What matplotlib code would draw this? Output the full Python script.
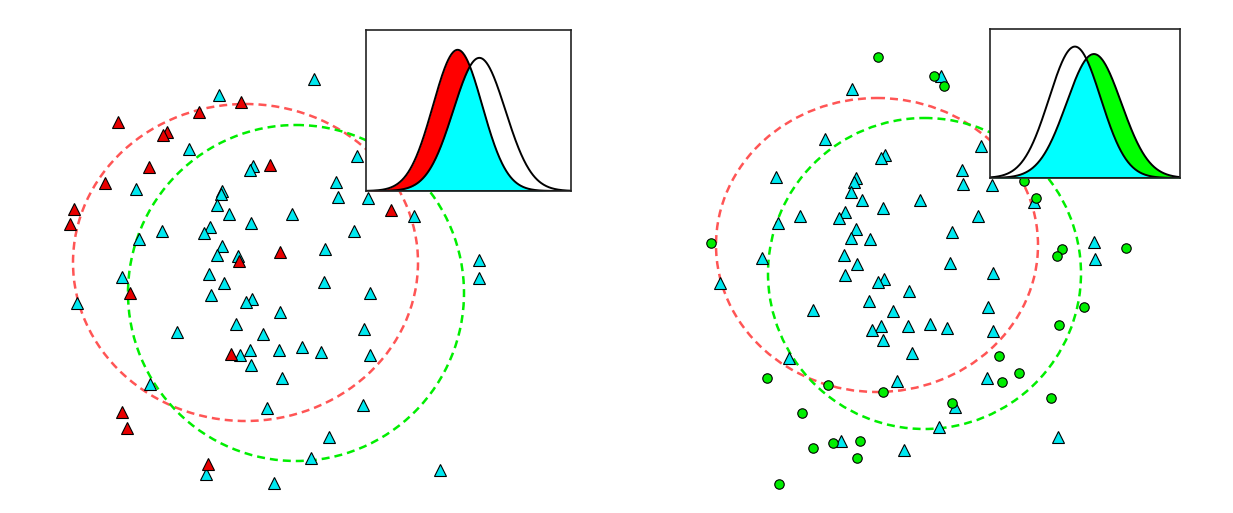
import numpy as np
import matplotlib
matplotlib.use("Agg")
import matplotlib.pyplot as plt
from matplotlib.patches import Ellipse

# left panel: cyan triangles and red triangles (x, y in panel units)
left_cyan_x = [314, 219, 357, 189, 253, 250, 336, 136, 222, 221, 338, 368, 217, 229, 292,
               251, 414, 210, 204, 162, 139, 354, 222, 217, 238, 325, 479, 479, 209, 122,
               224, 324, 211, 370, 77, 252, 246, 280, 236, 177, 263, 364, 250, 240, 279,
               302, 321, 370, 251, 282, 150, 267, 363, 329, 311, 440, 206, 274]
left_cyan_y = [79, 95, 156, 149, 166, 170, 182, 189, 191, 194, 197, 198, 205, 214, 214,
               223, 216, 227, 233, 231, 239, 231, 246, 255, 256, 249, 260, 278, 274, 277,
               283, 282, 295, 293, 303, 299, 302, 312, 324, 332, 334, 329, 350, 355, 350,
               347, 352, 355, 365, 378, 384, 408, 405, 437, 458, 470, 474, 483]
left_red_x = [241, 199, 118, 167, 163, 270, 149, 105, 74, 70, 391, 280, 239, 130, 231, 122, 127, 208]
left_red_y = [102, 112, 122, 132, 135, 165, 167, 183, 209, 224, 210, 252, 261, 293, 354, 412, 428, 464]

# right panel: cyan triangles and green circles
right_cyan_x = [941, 852, 825, 981, 885, 881, 962, 776, 856, 854, 963, 992, 851, 862, 920,
                883, 1034, 800, 845, 839, 978, 778, 856, 851, 870, 952, 1094, 1095, 844, 762,
                857, 950, 993, 720, 845, 884, 878, 909, 869, 988, 813, 893, 881, 872, 908,
                930, 947, 993, 883, 912, 789, 897, 987, 955, 939, 841, 1058, 904]
right_cyan_y = [76, 89, 139, 146, 155, 158, 170, 177, 178, 182, 184, 185, 192, 200, 200,
                208, 202, 216, 212, 218, 216, 223, 229, 238, 239, 232, 242, 259, 255, 258,
                264, 263, 273, 283, 275, 279, 282, 291, 301, 307, 310, 311, 326, 330, 326,
                324, 328, 331, 340, 353, 358, 381, 378, 407, 427, 441, 437, 450]
right_green_x = [878, 934, 944, 1024, 1036, 711, 1062, 1057, 1126, 1084, 1059, 999, 1019,
                 1002, 767, 828, 883, 1051, 952, 802, 833, 860, 813, 857, 779]
right_green_y = [57, 76, 86, 181, 198, 243, 249, 256, 248, 307, 325, 356, 373,
                 382, 378, 385, 392, 398, 403, 413, 443, 441, 448, 458, 484]

# dashed contours: centre x, centre y, width, height
left_red_ell = [245.5, 262.5, 345, 317]
left_green_ell = [296, 293, 336, 336]
right_red_ell = [877, 245, 322, 294]
right_green_ell = [924.5, 273.5, 313, 311]

# inset gaussians: mean, sigma, peak height
left_red_g = [0.447, 0.120, 0.877]
left_white_g = [0.553, 0.127, 0.827]
right_white_g = [0.447, 0.136, 0.882]
right_green_g = [0.547, 0.144, 0.832]

cyan = '#00e8f0'
W, H = 1233, 513


def gauss(x, p):
    return p[2] * np.exp(-0.5 * ((x - p[0]) / p[1]) ** 2)


def contour(ax, e, color):
    ax.add_patch(Ellipse((e[0], e[1]), e[2], e[3], fill=False, edgecolor=color,
                         lw=1.8, linestyle=(0, (3.2, 2.0)), zorder=3))


def inset(rect, shifted, other, fillcol):
    ax = fig.add_axes(rect)
    x = np.linspace(0, 1, 400)
    a = gauss(x, shifted)
    b = gauss(x, other)
    ax.fill_between(x, 0, a, color=fillcol, lw=0)
    ax.fill_between(x, 0, np.minimum(a, b), color='#00ffff', lw=0)
    ax.plot(x, a, color='black', lw=1.4)
    ax.plot(x, b, color='black', lw=1.4)
    ax.plot([0, 1], [0, 0], color='black', lw=2)
    ax.set_xlim(0, 1)
    ax.set_ylim(0, 1)
    ax.set_xticks([])
    ax.set_yticks([])
    for s in ax.spines.values():
        s.set_linewidth(1.2)
        s.set_color('#222222')
    return ax


fig = plt.figure(figsize=(W / 100, H / 100), dpi=100)

ax1 = fig.add_axes([0, 0, 0.5, 1])
ax1.set_xlim(0, W / 2)
ax1.set_ylim(H, 0)
ax1.axis('off')
contour(ax1, left_red_ell, '#ff5555')
contour(ax1, left_green_ell, '#00ee00')
ax1.plot(left_cyan_x, left_cyan_y, '^', ms=8.5, mfc=cyan, mec='black', mew=0.8, zorder=4)
ax1.plot(left_red_x, left_red_y, '^', ms=8.5, mfc='#e80000', mec='black', mew=0.8, zorder=4)

ax2 = fig.add_axes([0.5, 0, 0.5, 1])
ax2.set_xlim(W / 2, W)
ax2.set_ylim(H, 0)
ax2.axis('off')
contour(ax2, right_red_ell, '#ff5555')
contour(ax2, right_green_ell, '#00ee00')
ax2.plot(right_cyan_x, right_cyan_y, '^', ms=8.5, mfc=cyan, mec='black', mew=0.8, zorder=4)
ax2.plot(right_green_x, right_green_y, 'o', ms=6.8, mfc='#00ee00', mec='black', mew=0.8, zorder=4)

inset([366 / W, (H - 191) / H, 205 / W, 161 / H], left_red_g, left_white_g, '#ff0000')
inset([990 / W, (H - 178) / H, 190 / W, 149 / H], right_green_g, right_white_g, '#00ff00')

fig.savefig('out.png', dpi=100)
